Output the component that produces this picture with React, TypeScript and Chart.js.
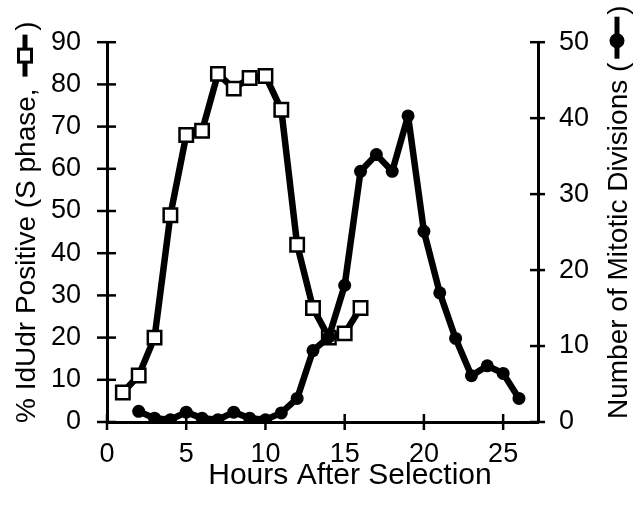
import React, { useEffect, useRef } from "react";
import { Chart, registerables } from "chart.js";

Chart.register(...registerables);

// ---- data ----
const hoursIdUdr = [1, 2, 3, 4, 5, 6, 7, 8, 9, 10, 11, 12, 13, 14, 15, 16];
const idudrPositive = [7, 11, 20, 49, 68, 69, 82.5, 79, 81.5, 82, 74, 42, 27, 20, 21, 27];

const hoursMitotic = [2, 3, 4, 5, 6, 7, 8, 9, 10, 11, 12, 13, 14, 15, 16, 17, 18, 19, 20, 21, 22, 23, 24, 25, 26];
const mitoticDivisions = [1.4, 0.5, 0.3, 1.3, 0.5, 0.3, 1.3, 0.5, 0.3, 1.2, 3.1, 9.4, 11.2, 18, 33, 35.2, 33, 40.3, 25.1, 17, 11, 6.1, 7.4, 6.4, 3.1];

const xTickStep = 5;
const leftTickStep = 10;
const rightTickStep = 10;

const xTitle = "Hours After Selection";
const leftTitle = "% IdUdr Positive (S phase, ";
const rightTitle = "Number of Mitotic Divisions (";
const closeParen = ")";

const FONT = '"Liberation Sans", Arial, Helvetica, sans-serif';

const decorPlugin = {
  id: "decor",
  afterDraw(chart: any) {
    const ctx = chart.ctx as CanvasRenderingContext2D;
    const area = chart.chartArea;
    const sx = chart.scales.x;
    const sy = chart.scales.y;
    const sy1 = chart.scales.y1;
    ctx.save();
    ctx.strokeStyle = "#000";
    ctx.lineWidth = 2.5;
    ctx.lineCap = "butt";
    // crossing tick marks
    sy.ticks.forEach((t: any) => {
      const p = sy.getPixelForValue(t.value);
      ctx.beginPath();
      ctx.moveTo(area.left - 10, p);
      ctx.lineTo(area.left + 9, p);
      ctx.stroke();
    });
    sy1.ticks.forEach((t: any) => {
      const p = sy1.getPixelForValue(t.value);
      ctx.beginPath();
      ctx.moveTo(area.right - 8, p);
      ctx.lineTo(area.right + 7, p);
      ctx.stroke();
    });
    sx.ticks.forEach((t: any) => {
      const p = sx.getPixelForValue(t.value);
      ctx.beginPath();
      ctx.moveTo(p, area.bottom - 8);
      ctx.lineTo(p, area.bottom + 8);
      ctx.stroke();
    });

    ctx.fillStyle = "#000";
    // x title
    ctx.font = `30px ${FONT}`;
    ctx.textAlign = "center";
    ctx.textBaseline = "alphabetic";
    ctx.fillText(xTitle, 350, 484);

    // left title
    ctx.font = `28px ${FONT}`;
    ctx.textAlign = "left";
    ctx.save();
    ctx.translate(35, 423);
    ctx.rotate(-Math.PI / 2);
    ctx.fillText(leftTitle, 0, 0);
    let w = ctx.measureText(leftTitle).width;
    const cy = -10;
    ctx.lineWidth = 5;
    ctx.beginPath();
    ctx.moveTo(w + 4, cy);
    ctx.lineTo(w + 46, cy);
    ctx.stroke();
    ctx.lineWidth = 3;
    ctx.fillStyle = "#fff";
    ctx.fillRect(w + 25 - 6.5, cy - 6.5, 13, 13);
    ctx.strokeRect(w + 25 - 6.5, cy - 6.5, 13, 13);
    ctx.fillStyle = "#000";
    ctx.fillText(closeParen, w + 50, 0);
    ctx.restore();

    // right title
    ctx.save();
    ctx.translate(627, 419);
    ctx.rotate(-Math.PI / 2);
    ctx.fillText(rightTitle, 0, 0);
    w = ctx.measureText(rightTitle).width;
    ctx.lineWidth = 5;
    ctx.beginPath();
    ctx.moveTo(w + 4, cy);
    ctx.lineTo(w + 46, cy);
    ctx.stroke();
    ctx.beginPath();
    ctx.arc(w + 22, cy, 7.5, 0, Math.PI * 2);
    ctx.fill();
    ctx.fillText(closeParen, w + 48, 0);
    ctx.restore();

    ctx.restore();
  },
};

export default function App() {
  const canvasRef = useRef<HTMLCanvasElement | null>(null);

  useEffect(() => {
    if (!canvasRef.current) return;
    const tickFont = { family: FONT, size: 27 };
    const chart = new Chart(canvasRef.current, {
      type: "line",
      data: {
        datasets: [
          {
            label: "Mitotic Divisions",
            data: hoursMitotic.map((h, i) => ({ x: h, y: mitoticDivisions[i] })),
            yAxisID: "y1",
            borderColor: "#000",
            backgroundColor: "#000",
            borderWidth: 6.5,
            pointStyle: "circle",
            pointRadius: 6.5,
            pointBorderWidth: 0,
            pointBackgroundColor: "#000",
            tension: 0,
            borderJoinStyle: "round",
          },
          {
            label: "IdUdr Positive",
            data: hoursIdUdr.map((h, i) => ({ x: h, y: idudrPositive[i] })),
            yAxisID: "y",
            borderColor: "#000",
            backgroundColor: "#fff",
            borderWidth: 6.5,
            pointStyle: "rect",
            pointRadius: 9.5,
            pointBorderWidth: 2.5,
            pointBorderColor: "#000",
            pointBackgroundColor: "#fff",
            tension: 0,
            borderJoinStyle: "round",
          },
        ],
      },
      options: {
        animation: false,
        responsive: false,
        devicePixelRatio: 1,
        layout: { padding: { top: 20, left: 0, right: 0, bottom: 0 } },
        plugins: {
          legend: { display: false },
          tooltip: { enabled: false },
        },
        scales: {
          x: {
            type: "linear",
            position: "bottom",
            min: 0,
            max: 27.2,
            ticks: {
              stepSize: xTickStep,
              includeBounds: false,
              padding: 16,
              color: "#000",
              font: tickFont,
              maxRotation: 0,
            },
            grid: { display: false, drawTicks: false },
            border: { display: true, color: "#000", width: 3 },
            afterFit: (s: any) => {
              s.height = 94;
            },
          },
          y: {
            type: "linear",
            position: "left",
            min: 0,
            max: 90,
            ticks: { stepSize: leftTickStep, padding: 26, color: "#000", font: tickFont },
            grid: { display: false, drawTicks: false },
            border: { display: true, color: "#000", width: 3 },
            afterFit: (s: any) => {
              s.width = 107;
            },
          },
          y1: {
            type: "linear",
            position: "right",
            min: 0,
            max: 50,
            ticks: { stepSize: rightTickStep, padding: 21, color: "#000", font: tickFont },
            grid: { display: false, drawTicks: false },
            border: { display: true, color: "#000", width: 3 },
            afterFit: (s: any) => {
              s.width = 98;
            },
          },
        },
      } as any,
      plugins: [decorPlugin],
    });
    return () => chart.destroy();
  }, []);

  return (
    <div style={{ position: "absolute", left: 0, top: 0, width: 636, height: 516, background: "#fff" }}>
      <canvas ref={canvasRef} width={636} height={516} style={{ display: "block" }} />
    </div>
  );
}
